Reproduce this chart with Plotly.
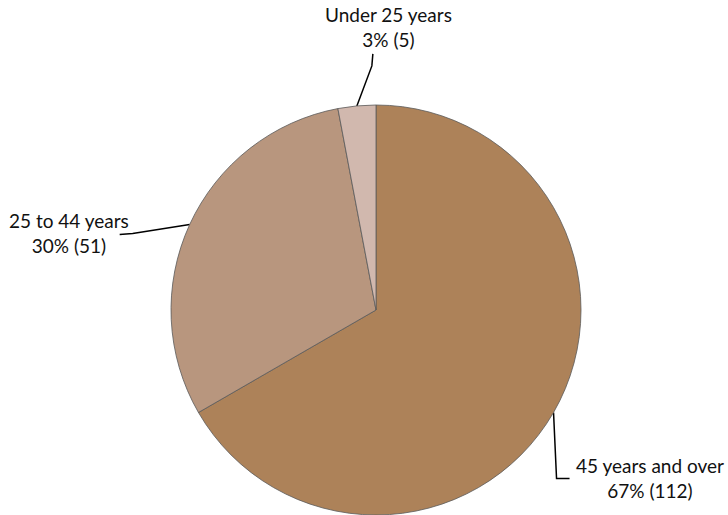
import math
import plotly.graph_objects as go

labels = ["45 years and over", "25 to 44 years", "Under 25 years"]
values = [112, 51, 5]
colors = ["#AD8259", "#B8967E", "#D1B8AE"]

W, H = 728, 515
CX, CY, R = 376, 310, 205

fig = go.Figure()
fig.add_trace(go.Pie(
    labels=labels, values=values, sort=False, direction="clockwise", rotation=0,
    marker=dict(colors=colors, line=dict(color="#5a5a5a", width=0.8)),
    textinfo="none", hoverinfo="label+value+percent", showlegend=False,
    domain=dict(x=[(CX - R) / W, (CX + R) / W], y=[(H - CY - R) / H, (H - CY + R) / H]),
))

total = sum(values)
leaders = {
    "Under 25 years": dict(elbow=(15, -40), end=(16, -52), text=(388, 27), xanchor="center"),
    "25 to 44 years": dict(elbow=(-57, 9), end=(-70, 10), text=(131, 233), xanchor="right"),
    "45 years and over": dict(elbow=(3, 66), end=(16, 66), text=(650, 478), xanchor="center"),
}

cum = 0
for lab, v in zip(labels, values):
    mid = (cum + v / 2) / total * 2 * math.pi
    cum += v
    ax = CX + R * math.sin(mid)
    ay = CY - R * math.cos(mid)
    g = leaders[lab]
    xs = [ax, ax + g["elbow"][0], ax + g["end"][0]]
    ys = [ay, ay + g["elbow"][1], ay + g["end"][1]]
    fig.add_trace(go.Scatter(x=xs, y=ys, mode="lines", line=dict(color="black", width=1.5),
                             hoverinfo="skip", showlegend=False))
    pct = round(v / total * 100)
    fig.add_annotation(x=g["text"][0], y=g["text"][1], xref="x", yref="y",
                       text=f"{lab}<br>{pct}% ({v})", showarrow=False,
                       align="center", xanchor=g["xanchor"], yanchor="middle",
                       font=dict(family="Lato, sans-serif", size=19, color="#111"))

fig.update_layout(
    width=W, height=H, margin=dict(l=0, r=0, t=0, b=0),
    paper_bgcolor="white", plot_bgcolor="rgba(0,0,0,0)",
    xaxis=dict(range=[0, W], visible=False, fixedrange=True),
    yaxis=dict(range=[H, 0], visible=False, fixedrange=True),
)
fig.write_html("out.html")
